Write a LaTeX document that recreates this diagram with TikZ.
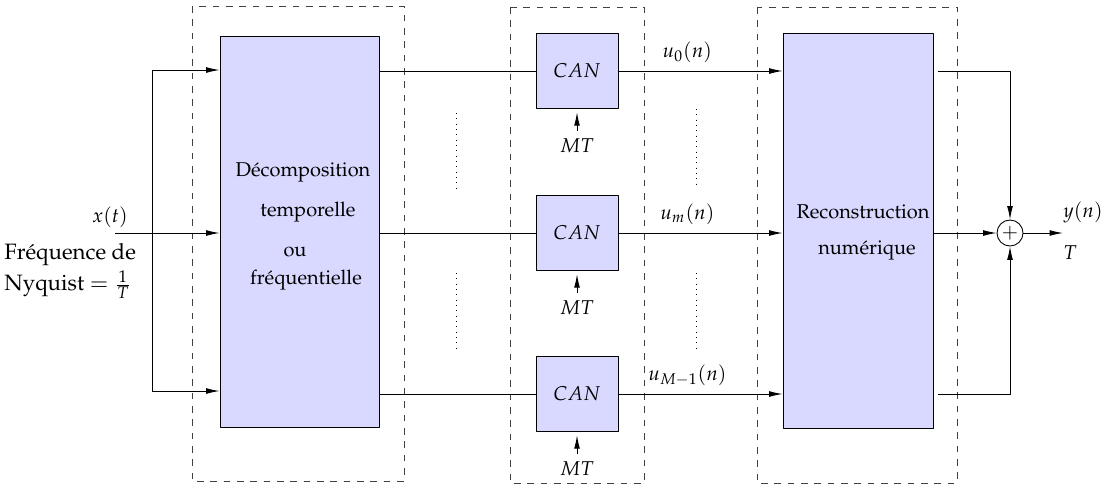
\documentclass[tikz,border=0pt]{standalone}
\usepackage[T1]{fontenc}
\usepackage{mathpazo}
\usetikzlibrary{positioning,arrows.meta}
\tikzset{
  bloc/.style={draw, fill=blue!15, inner sep=0pt},
  cadre/.style={draw=black!75, dashed},
  can/.style={bloc, minimum width=82*0.45pt, minimum height=75*0.45pt},
}
\begin{document}
\begin{tikzpicture}[x=0.45pt, y=-0.45pt, >={Latex[length=6pt,width=2.6pt]}, font=\small, line join=round]
\useasboundingbox (0,0) rectangle (1114,488);
\path
  (115,233) coordinate (xin)
  (152,70) coordinate (fh)
  (152,391) coordinate (fb)
  (1063,233) coordinate (yout)
  ;
% cadres en tirets
\draw[cadre] (192,6) rectangle (404,481);
\draw[cadre] (510,7) rectangle (644,483);
\draw[cadre] (757,7) rectangle (957,483);
% blocs
\node[bloc, minimum width=159*0.45pt, minimum height=391*0.45pt] (dec) at (299.5,231.5) {};
\node[bloc, minimum width=150*0.45pt, minimum height=395*0.45pt] (rec) at (858,230.5) {};
\node (decA) at (303,172) {D\'ecomposition};
\node (decB) at (308,212) {temporelle};
\node (decC) at (295,252) {ou};
\node (decD) at (306,280) {fr\'equentielle};
\node (recA) at (863,212) {Reconstruction};
\node (recB) at (867,250) {num\'erique};
\node[can] (can0) at (577,71) {$CAN$};
\node[can] (can1) at (577,233) {$CAN$};
\node[can] (can2) at (577,394) {$CAN$};
\node[below=10pt of can0] (mt0) {$MT$};
\node[below=10pt of can1] (mt1) {$MT$};
\node[below=10pt of can2] (mt2) {$MT$};
\node[draw, circle, inner sep=0pt, minimum size=11.7pt] (sum) at (1010,233) {$+$};
% entree
\node[anchor=west, align=left, inner sep=0pt, font=\normalsize] (nyq) at (4,271) {Fr\'equence de\\[1pt]Nyquist $=\frac{1}{T}$};
\node (xl) at (110,217) {$x(t)$};
\draw[->] (xin) -- (dec.west |- xin);
\draw[<->] (dec.west |- fh) -- (fh) -- (fb) -- (dec.west |- fb);
% branches
\foreach \i/\lab in {0/u_0(n), 1/u_m(n), 2/u_{M-1}(n)}{
  \draw (dec.east |- can\i.west) -- (can\i.west);
  \draw[->] (can\i.east) -- node[pos=0.42, above] {$\lab$} (rec.west |- can\i.east);
  \draw[->, shorten >=1.5pt] (mt\i.north) -- (can\i.south);
}
\draw[dotted] (456,113) -- (456,192);
\draw[dotted] (456,273) -- (456,350);
\draw[dotted] (696,109) -- (696,187);
\draw[dotted] (696,273) -- (696,351);
% sortie
\draw[->] (rec.east |- sum) -- (sum.west);
\draw[->, shorten <=2pt] (rec.east |- can0) -| (sum.north);
\draw[->, shorten <=2pt] (rec.east |- can2) -| (sum.south);
\draw[->] (sum) -- (yout);
\node (yl) at (1083,212) {$y(n)$};
\node (tl) at (1070,253) {$T$};
\end{tikzpicture}
\end{document}
